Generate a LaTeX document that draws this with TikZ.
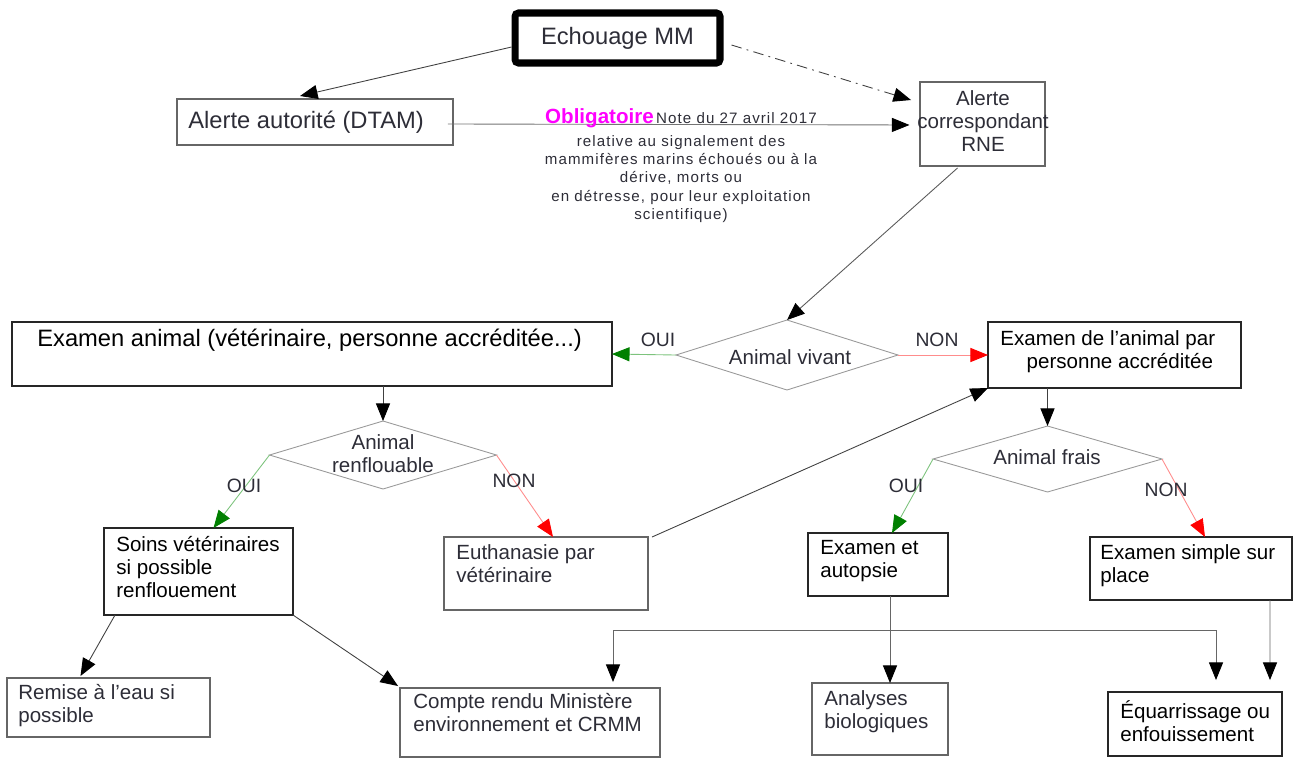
\documentclass[tikz,border=0pt]{standalone}
\usepackage{fontspec}
\setmainfont{Liberation Sans}
\usetikzlibrary{arrows.meta}
\usetikzlibrary{shapes.geometric}
\usetikzlibrary{positioning}
\usetikzlibrary{calc}

\definecolor{ouivert}{RGB}{0,128,0}
\definecolor{ouiclair}{RGB}{125,195,125}
\definecolor{nonrouge}{RGB}{255,0,0}
\definecolor{nonclair}{RGB}{255,140,140}
\definecolor{texte}{RGB}{45,45,55}
\definecolor{rose}{RGB}{255,0,255}

\tikzset{
  boite/.style={draw=black!60, line width=0.8pt, inner sep=0pt, outer sep=0pt},
  boitenoire/.style={draw=black!85, line width=0.9pt, inner sep=0pt, outer sep=0pt},
  losange/.style={diamond, aspect=3.3, draw=black!40, line width=0.5pt, inner sep=0pt, outer sep=0pt},
  etiq/.style={inner sep=0pt, align=left, text=texte, font=\fontsize{11.7pt}{13pt}\selectfont},
  reponse/.style={inner sep=0pt, text=texte, font=\fontsize{11pt}{13pt}\selectfont},
  fleche/.style={draw=black!75, line width=0.5pt, -{Triangle[length=10pt,width=8pt,color=black]}},
  oui/.style={draw=ouiclair, line width=0.5pt, -{Triangle[length=10pt,width=8pt,color=ouivert]}},
  non/.style={draw=nonclair, line width=0.5pt, -{Triangle[length=10pt,width=8pt,color=nonrouge]}},
}

\begin{document}
\begin{tikzpicture}[x=0.02cm,y=-0.02cm]
\useasboundingbox (0,0) rectangle (1293,758);

% alertes
\node at (617.5,38) [draw, line width=4pt, rounded corners=2pt, minimum width=41mm,
  minimum height=10mm, text=texte, font=\fontsize{13.5pt}{15pt}\selectfont] (echo) {Echouage MM};

\node at (315,122) [boite, minimum width=55.2mm, minimum height=9.2mm] (alerte) {};
\node at (188,122) [etiq, anchor=west, font=\fontsize{13.5pt}{15pt}\selectfont] (alertet)
{Alerte autorité (DTAM)};

\node at (982.5,124) [boite, minimum width=25mm, minimum height=16.8mm] (rne) {};
\node at (983,121) [etiq, align=center] (rnet) {Alerte\\correspondant\\RNE};

\draw[fleche] ($(echo.west)+(0,9)$) -- ($(alerte.north)+(-15,-3)$);
\draw[fleche, dash pattern=on 6pt off 3pt on 1pt off 3pt] ($(echo.east)+(8,7)$)
  -- ($(rne.north west)+(-9,18)$);
\draw[fleche, draw=black!55, shorten >=6pt] ($(alerte.east)+(-5,2)$) -- ($(rne.west)+(0,1)$);

\node at (681,108) [anchor=north, align=center, inner sep=0pt, text=texte,
  font=\fontsize{8.6pt}{10.5pt}\selectfont\addfontfeature{LetterSpace=7}] (note)
{{\fontsize{11.7pt}{13pt}\selectfont\bfseries\addfontfeature{LetterSpace=0}\color{rose}Obligatoire}\,Note du 27 avril 2017\\[2.5pt]
relative au signalement des\\
mammifères marins échoués ou à la\\
dérive, morts ou\\
en détresse, pour leur exploitation\\
scientifique)};

% animal vivant
\node at (787,355) [losange, minimum width=44.4mm, minimum height=14mm] (vivant) {};
\node at (790,357) [etiq] (vivantt) {Animal vivant};

\node at (312,354) [boitenoire, minimum width=120mm, minimum height=12.8mm] (exa) {};
\node at (37,340) [etiq, anchor=west, text=black, font=\fontsize{13.5pt}{15pt}\selectfont] (exat)
{Examen animal (vétérinaire, personne accréditée...)};

\node at (1114.5,355) [boitenoire, minimum width=50.6mm, minimum height=13.2mm] (exb) {};
\node at (1000,330) [etiq, anchor=north west, text=black] (exbt)
{Examen de l’animal par\\\hspace*{15pt}personne accréditée};

\draw[fleche, draw=black!65] ($(rne.south)+(-25,2)$) -- (vivant.north);
\draw[oui] (vivant.west) -- (exa.east);
\draw[non] (vivant.east) -- (exb.west);
\node at (658,340) [reponse] (oui1) {OUI};
\node at (937,340) [reponse] (non1) {NON};

% branche gauche
\node at (383,455) [losange, minimum width=45.4mm, minimum height=13.6mm] (renfl) {};
\node at (383,454) [etiq, align=center] (renflt) {Animal\\renflouable};

\node at (198.5,571.5) [boitenoire, minimum width=37.8mm, minimum height=17.4mm] (soins) {};
\node at (116,536) [etiq, anchor=north west, text=black] (soinst)
{Soins vétérinaires\\si possible\\renflouement};

\node at (546,573.5) [boite, minimum width=40.8mm, minimum height=14.6mm] (euth) {};
\node at (456,544) [etiq, anchor=north west] (eutht) {Euthanasie par\\vétérinaire};

\draw[fleche] (renfl.north |- exa.south) -- (renfl.north);
\draw[oui] (renfl.west) -- ($(soins.north)+(15,0)$);
\draw[non] (renfl.east) -- ($(euth.north)+(7,0)$);
\node at (244,486) [reponse] (oui2) {OUI};
\node at (514,481) [reponse] (non2) {NON};
\draw[fleche] ($(euth.north east)+(4,0)$) -- (exb.south west);

% branche droite
\node at (1047.5,459) [losange, minimum width=45.8mm, minimum height=13.2mm] (frais) {};
\node at (1047,457) [etiq] (fraist) {Animal frais};

\node at (878,564.5) [boitenoire, minimum width=28mm, minimum height=12.6mm] (autop) {};
\node at (820,540) [etiq, anchor=north west, text=black] (autopt) {Examen et\\autopsie};

\node at (1191,568.5) [boitenoire, minimum width=40.4mm, minimum height=12.6mm] (simple) {};
\node at (1100,544) [etiq, anchor=north west, text=black] (simplet) {Examen simple sur\\place};

\draw[fleche] (frais.north |- exb.south) -- (frais.north);
\draw[oui] (frais.west) -- ($(autop.north)+(14,0)$);
\draw[non] (frais.east) -- ($(simple.north)+(14,0)$);
\node at (906,486) [reponse] (oui3) {OUI};
\node at (1166,490) [reponse] (non3) {NON};

% bas
\node at (108.5,707.5) [boite, minimum width=40.6mm, minimum height=11.8mm] (remise) {};
\node at (18,684) [etiq, anchor=north west] (remiset) {Remise à l’eau si\\possible};

\node at (530,722.5) [boite, minimum width=52mm, minimum height=13.8mm] (compte) {};
\node at (413,693) [etiq, anchor=north west] (comptet) {Compte rendu Ministère\\environnement et CRMM};

\node at (880,719) [boite, minimum width=27.2mm, minimum height=14.4mm] (analy) {};
\node at (824,690) [etiq, anchor=north west] (analyt) {Analyses\\biologiques};

\node at (1195,724) [boitenoire, minimum width=34.8mm, minimum height=12.8mm] (equar) {};
\node at (1120,700) [etiq, anchor=north west, text=black] (equart) {Équarrissage ou\\enfouissement};

\draw[fleche] ($(soins.south west)+(11,0)$) -- ($(remise.north)+(-28,-2)$);
\draw[fleche] (soins.south east) -- ($(compte.north west)+(-2,-2)$);

\coordinate (jn) at (890,630);
\coordinate (jl) at (613,630);
\coordinate (jr) at (1216,630);
\draw[draw=black!60, line width=0.5pt] ($(autop.south)+(12,0)$) -- (jn);
\draw[draw=black!60, line width=0.5pt] (jl) -- (jr);
\draw[fleche, draw=black!60] (jl) -- ($(jl |- compte.north)+(0,-6)$);
\draw[fleche, draw=black!60] (jn) -- (jn |- analy.north);
\draw[fleche, draw=black!60] (jr) -- ($(jr |- equar.north)+(0,-12)$);
\draw[fleche, draw=black!60] ($(simple.south east)+(-22,0)$) -- ($(equar.north east)+(-12,-12)$);

\end{tikzpicture}
\end{document}
